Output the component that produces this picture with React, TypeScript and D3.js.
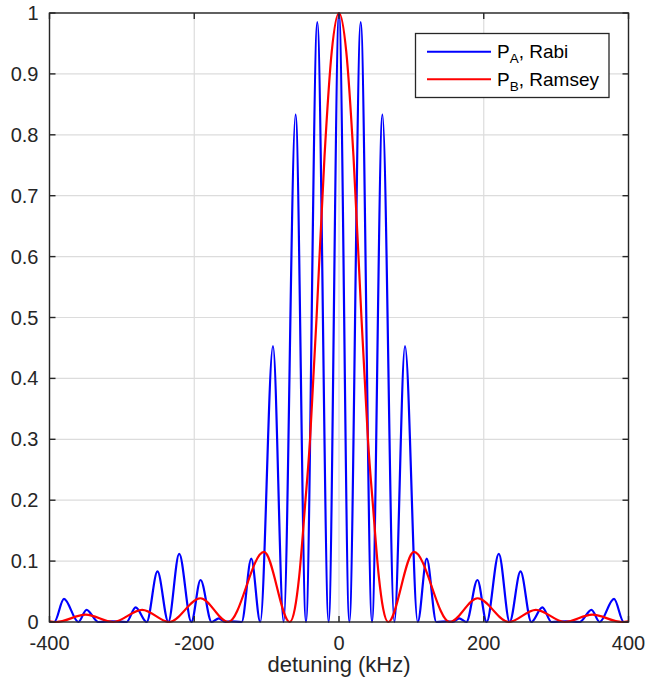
import React from "react";
import * as d3 from "d3";

const W = 646;
const H = 684;

// x ticks (kHz) and y ticks
const xTicks = [-400, -200, 0, 200, 400];
const yTicks = [0, 0.1, 0.2, 0.3, 0.4, 0.5, 0.6, 0.7, 0.8, 0.9, 1];

// Blue series: P_A, Rabi (extrema)
const blueX = [
  -400, -393.4, -380, -360.1, -348.8, -332.5, -313, -293.5, -281, -265.7, -250.8, -235.8, -220.8, -204,
  -191.3, -176, -166, -157, -150, -134.5, -121.2, -108.8, -91.2, -76.5, -60, -45.6, -30, -14.3,
  0,
  14.3, 30, 45.6, 60, 76.5, 91.2, 108.8, 121.2, 134.5, 150, 157, 166, 176, 191.3,
  204, 220.8, 235.8, 250.8, 265.7, 281, 293.5, 313, 332.5, 348.8, 360.1, 380, 393.4, 400,
];
const blueY = [
  0, 0, 0.038, 0, 0.02, 0, 0.001, 0, 0.024, 0, 0.083, 0, 0.112, 0,
  0.069, 0, 0.006, 0, 0.001, 0, 0.104, 0, 0.453, 0, 0.833, 0, 0.985, 0,
  1,
  0, 0.985, 0, 0.833, 0, 0.453, 0, 0.104, 0, 0.001, 0, 0.006, 0, 0.069,
  0, 0.112, 0, 0.083, 0, 0.024, 0, 0.001, 0, 0.02, 0, 0.038, 0, 0,
];

// Red series: P_B, Ramsey
const redX = [
  -400, -391, -350, -312, -272, -234.5, -191.5, -153, -103.6, -68, -61, -55, -47, -40, -35.5, -31, -20, -10,
  0,
  10, 20, 31, 35.5, 40, 47, 55, 61, 68, 103.6, 153, 191.5, 234.5, 272, 312, 350, 391, 400,
];
const redY = [
  0.001, 0, 0.012, 0, 0.02, 0, 0.039, 0, 0.115, 0, 0.022, 0.075, 0.19, 0.3, 0.4, 0.5, 0.765, 0.937,
  1,
  0.937, 0.765, 0.5, 0.4, 0.3, 0.19, 0.075, 0.022, 0, 0.115, 0, 0.039, 0, 0.02, 0, 0.012, 0, 0.001,
];

const seriesNames = ["P_A, Rabi", "P_B, Ramsey"];
const seriesColors = ["#0000ff", "#ff0000"];
const xLabel = "detuning (kHz)";

const FONT = "'Liberation Sans', Arial, Helvetica, sans-serif";
const AX = "#262626";

export default function App() {
  const left = 49.5;
  const right = 628.5;
  const top = 13;
  const bottom = 622;

  const x = d3.scaleLinear().domain([-400, 400]).range([left, right]);
  const y = d3.scaleLinear().domain([0, 1]).range([bottom, top]);

  const line = d3
    .line<[number, number]>()
    .x((d) => x(d[0]))
    .y((d) => y(d[1]))
    .curve(d3.curveMonotoneX);

  const blue: [number, number][] = blueX.map((v, i) => [v, blueY[i]]);
  const red: [number, number][] = redX.map((v, i) => [v, redY[i]]);

  const tickLen = 6;

  return (
    <svg
      width={W}
      height={H}
      style={{ position: "absolute", left: 0, top: 0, background: "#fff" }}
      fontFamily={FONT}
    >
      <rect x={0} y={0} width={W} height={H} fill="#fff" />
      <defs>
        <clipPath id="plotclip">
          <rect x={left} y={top - 2} width={right - left} height={bottom - top + 4} />
        </clipPath>
      </defs>
      {/* grid */}
      {xTicks.map((t) => (
        <line key={"gx" + t} x1={x(t)} x2={x(t)} y1={top} y2={bottom} stroke="#dcdcdc" strokeWidth={1.2} />
      ))}
      {yTicks.map((t) => (
        <line key={"gy" + t} x1={left} x2={right} y1={y(t)} y2={y(t)} stroke="#dcdcdc" strokeWidth={1.2} />
      ))}
      {/* series */}
      <g clipPath="url(#plotclip)">
        <path d={line(blue) || ""} fill="none" stroke={seriesColors[0]} strokeWidth={2.2} strokeLinejoin="round" />
        <path d={line(red) || ""} fill="none" stroke={seriesColors[1]} strokeWidth={2.2} strokeLinejoin="round" />
      </g>
      {/* frame */}
      <rect x={left} y={top} width={right - left} height={bottom - top} fill="none" stroke={AX} strokeWidth={1.4} />
      {/* ticks */}
      {xTicks.map((t) => (
        <g key={"tx" + t}>
          <line x1={x(t)} x2={x(t)} y1={bottom} y2={bottom - tickLen} stroke={AX} strokeWidth={1.4} />
          <line x1={x(t)} x2={x(t)} y1={top} y2={top + tickLen} stroke={AX} strokeWidth={1.4} />
          <text x={x(t)} y={650} textAnchor="middle" fontSize={20} fill={AX}>
            {t}
          </text>
        </g>
      ))}
      {yTicks.map((t) => (
        <g key={"ty" + t}>
          <line x1={left} x2={left + tickLen} y1={y(t)} y2={y(t)} stroke={AX} strokeWidth={1.4} />
          <line x1={right} x2={right - tickLen} y1={y(t)} y2={y(t)} stroke={AX} strokeWidth={1.4} />
          <text x={left - 11} y={y(t)} dy="0.35em" textAnchor="end" fontSize={20} fill={AX}>
            {d3.format("~g")(t)}
          </text>
        </g>
      ))}
      {/* x label */}
      <text x={(left + right) / 2} y={672} textAnchor="middle" fontSize={22} fill={AX}>
        {xLabel}
      </text>
      {/* legend */}
      <g>
        <rect x={415.5} y={33.5} width={193.5} height={64} fill="#fff" stroke={AX} strokeWidth={1.3} />
        {seriesNames.map((name, i) => {
          const ly = 51.7 + i * 27.6;
          const [main, rest] = name.split(", ");
          const [p, sub] = main.split("_");
          return (
            <g key={name}>
              <line x1={427} x2={491} y1={ly} y2={ly} stroke={seriesColors[i]} strokeWidth={2} />
              <text x={497} y={ly + 6.5} fontSize={19} fill="#000">
                <tspan>{p}</tspan>
                <tspan fontSize={13.5} dy={5}>{sub}</tspan>
                <tspan dy={-5}>{", " + rest}</tspan>
              </text>
            </g>
          );
        })}
      </g>
    </svg>
  );
}
